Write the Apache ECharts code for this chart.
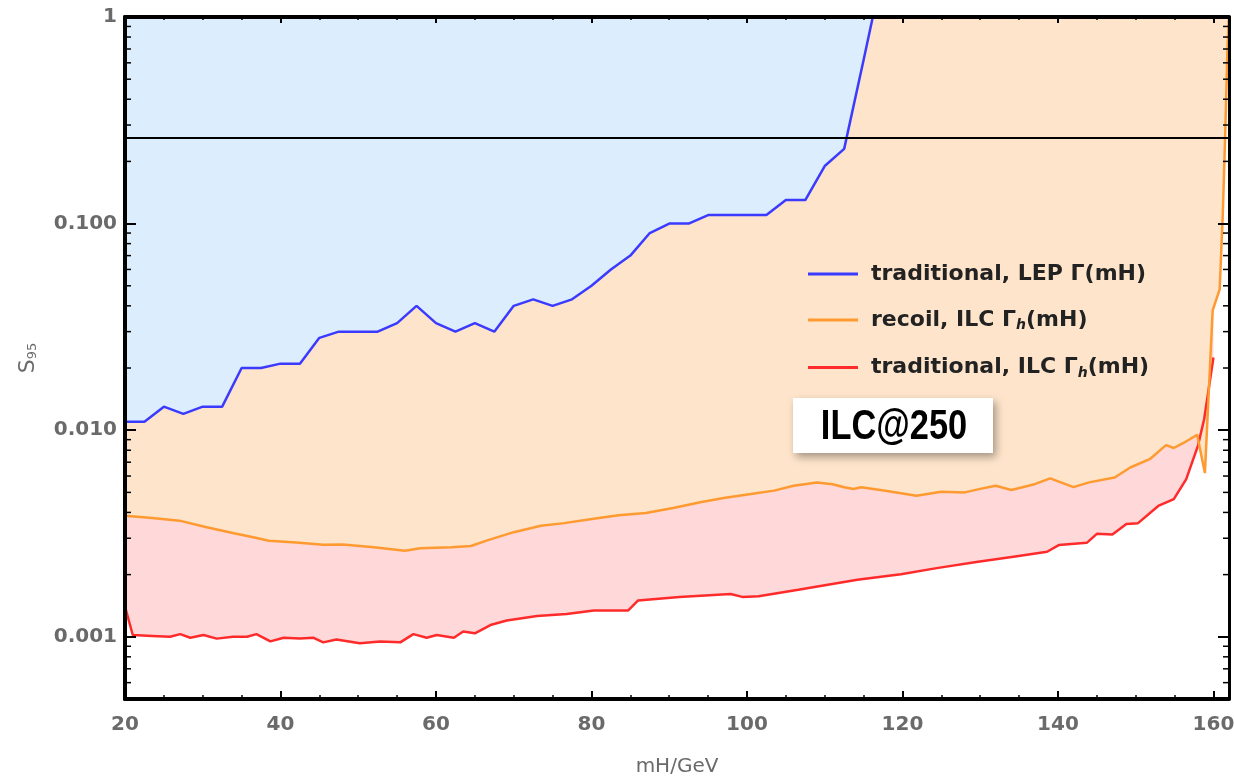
<!DOCTYPE html>
<html>
<head>
<meta charset="utf-8">
<title>S95 vs mH, ILC@250</title>
<script src="https://cdn.jsdelivr.net/npm/echarts@6/dist/echarts.min.js"></script>
<style>
  html, body { margin: 0; padding: 0; background: #fff; }
  #chart { width: 1234px; height: 779px; }
</style>
</head>
<body>
<div id="chart"></div>
<script>
// traditional analysis with the LEP width Γ(mH)
const massLep = [20, 22.5, 25, 27.5, 30, 32.5, 35, 37.5, 40, 42.5, 45, 47.5, 50, 52.5, 55, 57.5, 60, 62.5, 65, 67.5,
  70, 72.5, 75, 77.5, 80, 82.5, 85, 87.5, 90, 92.5, 95, 97.5, 100, 102.5, 105, 107.5, 110, 112.5, 115, 117.5];
const sLep = [0.011, 0.011, 0.013, 0.012, 0.013, 0.013, 0.020, 0.020, 0.021, 0.021, 0.028, 0.030, 0.030, 0.030, 0.033, 0.040, 0.033, 0.030, 0.033, 0.030,
  0.040, 0.043, 0.040, 0.043, 0.050, 0.060, 0.070, 0.090, 0.100, 0.100, 0.110, 0.110, 0.110, 0.110, 0.130, 0.130, 0.190, 0.230, 0.62, 1.7];

// recoil analysis with the ILC width Γh(mH)
const massRecoil = [20, 23.5, 27, 30.5, 34, 36.5, 38.5, 42, 45.5, 48, 52, 54, 56, 58, 62, 64.5, 66.5, 70, 73.5, 76.5,
  80.5, 83.5, 87, 90.5, 94, 97, 100.5, 103.5, 106, 109, 111, 112.5, 113.7, 114.7, 117.8, 121.8, 125, 128, 130, 132,
  134, 137, 139, 142, 144, 147.3, 149.3, 151.8, 153.9, 154.9, 156.2, 157.9, 158.9, 159.9, 160.8, 161.2, 161.5, 161.8, 162.1];
const sRecoil = [0.00385, 0.00376, 0.00365, 0.00339, 0.00317, 0.00303, 0.00292, 0.00286, 0.00279, 0.0028, 0.00271, 0.00266, 0.00261, 0.00268, 0.00271, 0.00275, 0.00292, 0.00321, 0.00345, 0.00355,
  0.00374, 0.00388, 0.00397, 0.0042, 0.00448, 0.0047, 0.00491, 0.0051, 0.00538, 0.00559, 0.00548, 0.0053, 0.00519, 0.0053, 0.00509, 0.00482, 0.00504, 0.005, 0.0052, 0.00538,
  0.00514, 0.00548, 0.00585, 0.0053, 0.00559, 0.0059, 0.0066, 0.00724, 0.00847, 0.0082, 0.0087, 0.0095, 0.0062, 0.038, 0.048, 0.11, 0.26, 0.69, 1.3];

// traditional analysis with the ILC width Γh(mH)
const massIlc = [20, 21, 23.5, 25.8, 27.1, 28.4, 30.1, 31.8, 33.9, 35.7, 36.9, 38.7, 40.4, 42.5, 44.2, 45.5, 47.2, 50.2, 52.8, 55.4,
  57.1, 58.8, 60.1, 62.3, 63.5, 65, 67, 69.1, 73, 76.8, 80.3, 84.7, 86, 91.3, 97.9, 99.4, 101.5, 106.6, 114.2, 119.8,
  124.4, 129.5, 134.5, 138.6, 140.1, 143.7, 145, 147, 148.8, 150.3, 152.9, 154.9, 156.5, 158, 158.8, 160];
const sIlc = [0.0014, 0.00102, 0.00101, 0.001, 0.00103, 0.00099, 0.00102, 0.00098, 0.001, 0.001, 0.00103, 0.00095, 0.00099, 0.00098, 0.00099, 0.00094, 0.00097, 0.00093, 0.00095, 0.00094,
  0.00103, 0.00099, 0.00102, 0.00099, 0.00106, 0.00104, 0.00114, 0.0012, 0.00126, 0.00129, 0.00134, 0.00134, 0.0015, 0.00156, 0.00161, 0.00156, 0.00157, 0.00169, 0.00189, 0.00201,
  0.00215, 0.0023, 0.00245, 0.00258, 0.00278, 0.00285, 0.00315, 0.00313, 0.00352, 0.00355, 0.0043, 0.00464, 0.0058, 0.0084, 0.0113, 0.0225];

// horizontal reference level
const sLevel = 0.26;

// axis ticks
const xTicks = [20, 40, 60, 80, 100, 120, 140, 160];
const yTickValues = [0.001, 0.01, 0.1, 1];
const yTickLabels = ['0.001', '0.010', '0.100', '1'];

const seriesNames = ['traditional, LEP Γ(mH)', 'recoil, ILC Γh(mH)', 'traditional, ILC Γh(mH)'];
const legendRich = {
  'traditional, LEP Γ(mH)': '{p|}{t|traditional, LEP Γ(mH)}',
  'recoil, ILC Γh(mH)': '{p|}{t|recoil, ILC Γ}{s|h}{t|(mH)}',
  'traditional, ILC Γh(mH)': '{p|}{t|traditional, ILC Γ}{s|h}{t|(mH)}'
};

const X_MIN = 20, X_MAX = 162, Y_MIN = 0.0005, Y_MAX = 1;

function zip(xs, ys) { return xs.map((x, i) => [x, ys[i]]); }

// log minor ticks: 2..9 within each decade
const minorY = [];
for (let e = -4; e <= -1; e++) {
  for (let m = 2; m <= 9; m++) {
    const v = m * Math.pow(10, e);
    if (v > Y_MIN && v < Y_MAX) minorY.push([X_MIN, v]);
  }
}

const labelFont = { color: '#6a6a6a', fontFamily: 'DejaVu Sans', fontWeight: 'bold', fontSize: 20 };

function areaSeries(name, data, color) {
  return {
    name, type: 'line', data, showSymbol: false, silent: true,
    lineStyle: { opacity: 0 },
    areaStyle: { origin: 'end', color, opacity: 1 },
    z: 1
  };
}
function lineSeries(name, data, color, extra) {
  return Object.assign({
    name, type: 'line', data, showSymbol: false, symbol: 'none',
    lineStyle: { color, width: 2.5 }, itemStyle: { color }, z: 3
  }, extra || {});
}

const chart = echarts.init(document.getElementById('chart'), null, { renderer: 'canvas' });

chart.setOption({
  animation: false,
  backgroundColor: '#ffffff',
  grid: { left: 125, right: 5, top: 17, bottom: 80, show: false, containLabel: false, outerBoundsMode: 'none' },
  legend: {
    data: seriesNames.map(n => ({ name: n, icon: 'rect' })),
    orient: 'vertical',
    left: 803, top: 258,
    itemWidth: 50, itemHeight: 3, itemGap: 24,
    selectedMode: false,
    formatter: n => legendRich[n],
    textStyle: {
      rich: {
        p: { width: 8 },
        t: { fontFamily: 'DejaVu Sans', fontWeight: 'bold', fontSize: 22, color: '#222', lineHeight: 25 },
        s: { fontFamily: 'DejaVu Sans', fontWeight: 'bold', fontStyle: 'italic', fontSize: 14, color: '#222',
             verticalAlign: 'bottom', lineHeight: 25, padding: [7, 0, 0, 0] }
      }
    }
  },
  xAxis: [
    {
      type: 'value', min: X_MIN, max: X_MAX, interval: 20, position: 'bottom', z: 10,
      name: 'mH/GeV', nameLocation: 'middle', nameGap: 58,
      nameTextStyle: { color: '#6a6a6a', fontFamily: 'DejaVu Sans', fontSize: 20 },
      axisLine: { onZero: false, lineStyle: { color: '#000', width: 4 } },
      axisTick: { inside: true, length: 8, lineStyle: { color: '#000', width: 2 } },
      minorTick: { show: true, splitNumber: 4, length: 4, lineStyle: { color: '#000', width: 1.5 } },
      axisLabel: Object.assign({ margin: 16, showMaxLabel: false,
        formatter: v => (xTicks.indexOf(v) >= 0 ? String(v) : '') }, labelFont),
      splitLine: { show: false }
    },
    {
      type: 'value', min: X_MIN, max: X_MAX, interval: 20, position: 'top', z: 10,
      axisLine: { onZero: false, lineStyle: { color: '#000', width: 4 } },
      axisTick: { inside: true, length: 6, lineStyle: { color: '#000', width: 2 } },
      minorTick: { show: true, splitNumber: 4, length: 3, lineStyle: { color: '#000', width: 1.5 } },
      axisLabel: { show: false },
      splitLine: { show: false }
    }
  ],
  yAxis: [
    {
      type: 'log', logBase: 10, min: Y_MIN, max: Y_MAX, position: 'left', z: 10,
      name: '{S|S}{sub|95}', nameLocation: 'middle', nameGap: 86,
      nameTextStyle: {
        rich: {
          S: { fontFamily: 'DejaVu Sans', fontSize: 22, color: '#6a6a6a' },
          sub: { fontFamily: 'DejaVu Sans', fontSize: 13, color: '#6a6a6a', verticalAlign: 'bottom', padding: [8, 0, 0, 0] }
        }
      },
      axisLine: { onZero: false, lineStyle: { color: '#000', width: 4 } },
      axisTick: { inside: true, length: 11, lineStyle: { color: '#000', width: 2 } },
      axisLabel: Object.assign({ margin: 8, showMinLabel: false,
        formatter: v => {
          const i = yTickValues.findIndex(t => Math.abs(Math.log10(v) - Math.log10(t)) < 1e-6);
          return i >= 0 ? yTickLabels[i] : '';
        } }, labelFont),
      splitLine: { show: false }
    },
    {
      type: 'log', logBase: 10, min: Y_MIN, max: Y_MAX, position: 'right', z: 10,
      axisLine: { onZero: false, lineStyle: { color: '#000', width: 3 } },
      axisTick: { inside: true, length: 11, lineStyle: { color: '#000', width: 2 } },
      axisLabel: { show: false },
      splitLine: { show: false }
    }
  ],
  series: [
    areaSeries('fill ILC', zip(massIlc, sIlc), '#ffd9da'),
    areaSeries('fill recoil', zip(massRecoil, sRecoil), '#fde4ca'),
    areaSeries('fill LEP', zip(massLep, sLep), '#dcedfd'),
    lineSeries(seriesNames[2], zip(massIlc, sIlc), '#ff2b2b'),
    lineSeries(seriesNames[1], zip(massRecoil, sRecoil), '#ff9a30'),
    lineSeries(seriesNames[0], zip(massLep, sLep), '#3b3bff', {
      markLine: {
        silent: true, symbol: ['none', 'none'], label: { show: false },
        lineStyle: { color: '#000', width: 2, type: 'solid' },
        data: [{ yAxis: sLevel }]
      }
    }),
    {
      name: 'minor ticks', type: 'custom', silent: true, clip: false, z: 11,
      data: minorY,
      renderItem: (params, api) => {
        const v = api.value(1);
        const l = api.coord([X_MIN, v]);
        const r = api.coord([X_MAX, v]);
        const st = { stroke: '#000', lineWidth: 1.5 };
        return {
          type: 'group',
          children: [
            { type: 'line', shape: { x1: l[0], y1: l[1], x2: l[0] + 6, y2: l[1] }, style: st },
            { type: 'line', shape: { x1: r[0], y1: r[1], x2: r[0] - 6, y2: r[1] }, style: st }
          ]
        };
      }
    }
  ],
  graphic: {
    elements: [
      {
        type: 'rect', id: 'tagBox', x: 793, y: 398, z: 100,
        shape: { x: 0, y: 0, width: 200, height: 55 },
        style: { fill: '#ffffff', shadowBlur: 8, shadowOffsetX: 3, shadowOffsetY: 4, shadowColor: 'rgba(0,0,0,0.35)' }
      },
      {
        type: 'text', id: 'tagText', x: 894, y: 427, z: 101, scaleX: 0.8,
        style: {
          text: 'ILC@250', fill: '#000000',
          fontFamily: 'Liberation Sans', fontWeight: 'bold', fontSize: 43,
          align: 'center', verticalAlign: 'middle'
        }
      }
    ]
  }
});
</script>
</body>
</html>
